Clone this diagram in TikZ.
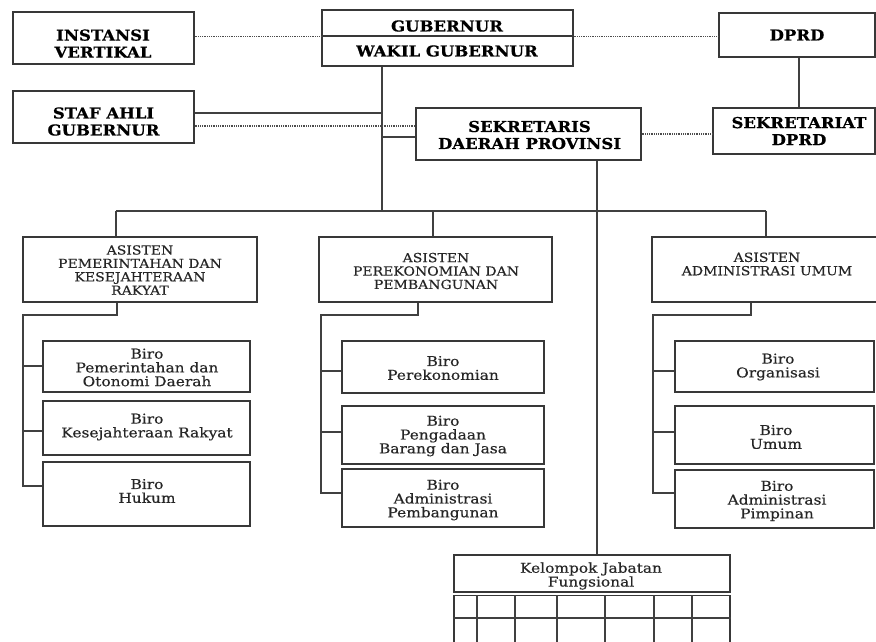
\documentclass[tikz,border=0pt]{standalone}
\usepackage{fontspec}
\setmainfont{DejaVu Serif}
\newfontfamily\hdfont{DejaVu Serif}[FakeStretch=1.1,FakeBold=0.6]
\newfontfamily\asfont{DejaVu Serif}[FakeStretch=1.12,FakeBold=0.35]
\newfontfamily\brfont{DejaVu Serif}[FakeStretch=1.14,FakeBold=0.35]
\begin{document}
\begin{tikzpicture}[x=1pt,y=-1pt,
  bx/.style={draw=black!78, line width=1.3pt, inner sep=0pt, fill=white},
  ln/.style={draw=black!75, line width=1.3pt},
  dt/.style={draw=black!70, line width=1.2pt, dash pattern=on 1pt off 0.8pt},
  ttl/.style={text=black, align=center, inner sep=0pt, font=\hdfont\bfseries\fontsize{15}{17}\selectfont},
  ast/.style={text=black!85, align=center, inner sep=0pt, font=\asfont\fontsize{12.5}{13.4}\selectfont},
  brt/.style={text=black!85, align=center, inner sep=0pt, font=\brfont\fontsize{13.5}{13.8}\selectfont}]
\useasboundingbox (0,0) rectangle (876,641);
\clip (0,0) rectangle (876,641);
% top boxes
\node[bx, minimum width=181, minimum height=52] (inst) at (103.5,38) {};
\node[bx, minimum width=251, minimum height=26] (gub) at (447.5,23) {};
\node[bx, minimum width=251, minimum height=30] (wagub) at (447.5,51) {};
\node[bx, minimum width=156, minimum height=44] (dprd) at (797,35) {};
\node[bx, minimum width=181, minimum height=52] (staf) at (103.5,117) {};
\node[bx, minimum width=225, minimum height=52] (sek) at (528.5,134) {};
\node[bx, minimum width=162, minimum height=46] (sekdprd) at (794,131) {};
\node[ttl] (inst-t) at (103,43.5) {INSTANSI\\VERTIKAL};
\node[ttl] (gub-t) at (447,26) {GUBERNUR};
\node[ttl] (wagub-t) at (447,51) {WAKIL GUBERNUR};
\node[ttl] (dprd-t) at (797,35) {DPRD};
\node[ttl] (staf-t) at (103.5,121.5) {STAF AHLI\\GUBERNUR};
\node[ttl] (sek-t) at (529.5,135) {SEKRETARIS\\DAERAH PROVINSI};
\node[ttl] (sekdprd-t) at (799,131) {SEKRETARIAT\\DPRD};
% asisten
\node[bx, minimum width=234, minimum height=65] (as1) at (140,269.5) {};
\node[bx, minimum width=233, minimum height=65] (as2) at (435.5,269.5) {};
\node[bx, minimum width=238, minimum height=65] (as3) at (771,269.5) {};
\node[ast] (as1-t) at (140,270) {ASISTEN\\PEMERINTAHAN DAN\\KESEJAHTERAAN\\RAKYAT};
\node[ast] (as2-t) at (436,271) {ASISTEN\\PEREKONOMIAN DAN\\PEMBANGUNAN};
\node[ast] (as3-t) at (767,264) {ASISTEN\\ADMINISTRASI UMUM};
% biro boxes
\node[bx, minimum width=207, minimum height=51] (b11) at (146.5,366.5) {};
\node[bx, minimum width=207, minimum height=54] (b12) at (146.5,428) {};
\node[bx, minimum width=207, minimum height=64] (b13) at (146.5,494) {};
\node[bx, minimum width=202, minimum height=52] (b21) at (443,367) {};
\node[bx, minimum width=202, minimum height=58] (b22) at (443,435) {};
\node[bx, minimum width=202, minimum height=58] (b23) at (443,498) {};
\node[bx, minimum width=199, minimum height=51] (b31) at (774.5,366.5) {};
\node[bx, minimum width=199, minimum height=58] (b32) at (774.5,435) {};
\node[bx, minimum width=199, minimum height=58] (b33) at (774.5,499) {};
\node[brt] (b11-t) at (147,367.5) {Biro\\Pemerintahan dan\\Otonomi Daerah};
\node[brt] (b12-t) at (147,427) {Biro\\Kesejahteraan Rakyat};
\node[brt] (b13-t) at (147,491) {Biro\\Hukum};
\node[brt] (b21-t) at (443,368) {Biro\\Perekonomian};
\node[brt] (b22-t) at (443,436) {Biro\\Pengadaan\\Barang dan Jasa};
\node[brt] (b23-t) at (443,500) {Biro\\Administrasi\\Pembangunan};
\node[brt] (b31-t) at (778,367) {Biro\\Organisasi};
\node[brt] (b32-t) at (776,437) {Biro\\Umum};
\node[brt] (b33-t) at (777,501) {Biro\\Administrasi\\Pimpinan};
% kelompok jabatan fungsional
\node[bx, minimum width=276, minimum height=37] (kjf) at (592,573.5) {};
\node[bx, minimum width=276, minimum height=80, anchor=north] (grid) at (592,595) {};
\node[brt] (kjf-t) at (591,576) {Kelompok Jabatan\\Fungsional};
\draw[ln] (grid.west |- 0,618) -- (grid.east |- 0,618);
\foreach \gx in {477,515,557,605,654,692}{
  \draw[ln] (grid.north -| \gx,0) -- (grid.south -| \gx,0);
}
% connectors top
\coordinate (jx) at (382,211);
\draw[dt] (inst.east |- gub.south) -- (gub.south west);
\draw[dt] (gub.south east) -- (dprd.west |- gub.south east);
\coordinate (dx) at (799,0);
\draw[ln] (dprd.south -| dx) -- (sekdprd.north -| dx);
\draw[ln] (wagub.south -| jx) -- (jx);
\draw[ln] (staf.east |- 0,113) -- (jx |- 0,113);
\draw[dt] (staf.east |- 0,126) -- (sek.west |- 0,126);
\draw[ln] (jx |- 0,137) -- (sek.west |- 0,137);
\draw[dt] (sek.east |- 0,134) -- (sekdprd.west |- 0,134);
% bus
\coordinate (bl) at (116,211);
\coordinate (bm) at (433,211);
\coordinate (br) at (766,211);
\draw[ln] (bl) -- (br);
\draw[ln] (bl) -- (as1.north -| bl);
\draw[ln] (bm) -- (as2.north -| bm);
\draw[ln] (br) -- (as3.north -| br);
\coordinate (sx) at (597,0);
\draw[ln] (sek.south -| sx) -- (kjf.north -| sx);
% column 1
\coordinate (c1a) at (117,315);
\coordinate (c1s) at (23,315);
\coordinate (c1e) at (23,486);
\draw[ln] (as1.south -| c1a) -- (c1a) -- (c1s) -- (c1e) -- (b13.west |- c1e);
\draw[ln] (c1s |- 0,366) -- (b11.west |- 0,366);
\draw[ln] (c1s |- 0,431) -- (b12.west |- 0,431);
% column 2
\coordinate (c2a) at (418,315);
\coordinate (c2s) at (321,315);
\coordinate (c2e) at (321,493);
\draw[ln] (as2.south -| c2a) -- (c2a) -- (c2s) -- (c2e) -- (b23.west |- c2e);
\draw[ln] (c2s |- 0,371) -- (b21.west |- 0,371);
\draw[ln] (c2s |- 0,432) -- (b22.west |- 0,432);
% column 3
\coordinate (c3a) at (751,315);
\coordinate (c3s) at (653,315);
\coordinate (c3e) at (653,493);
\draw[ln] (as3.south -| c3a) -- (c3a) -- (c3s) -- (c3e) -- (b33.west |- c3e);
\draw[ln] (c3s |- 0,371) -- (b31.west |- 0,371);
\draw[ln] (c3s |- 0,432) -- (b32.west |- 0,432);
\end{tikzpicture}
\end{document}
